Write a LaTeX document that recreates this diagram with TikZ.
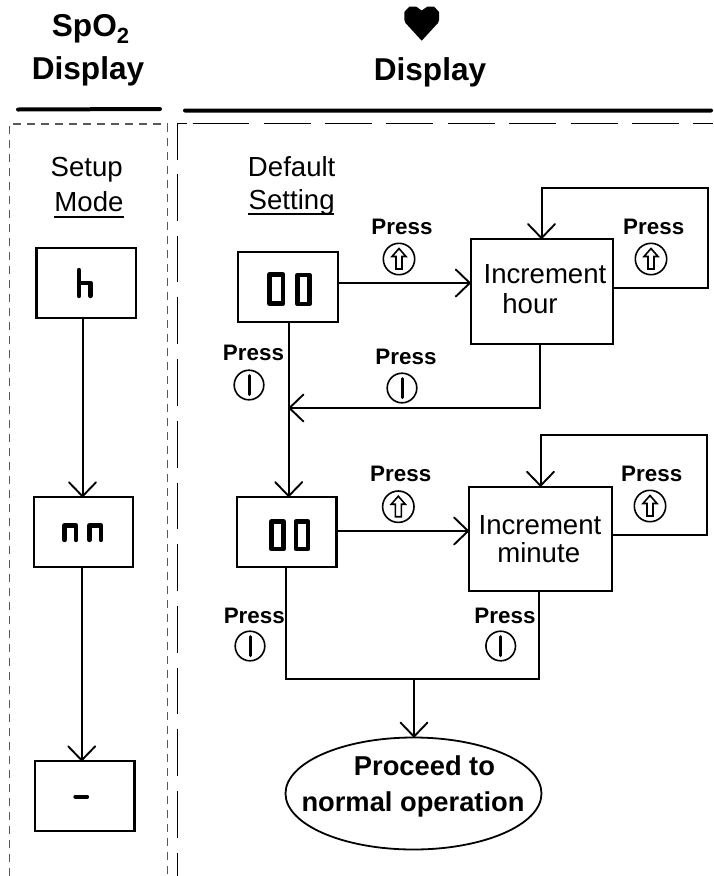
\documentclass[tikz,border=0pt]{standalone}
\usepackage{fontspec}
\setmainfont{Liberation Sans}
\usetikzlibrary{arrows.meta,shapes.geometric}
\newcommand{\fs}[1]{\fontsize{#1}{#1}\selectfont}
\tikzset{
  x=1pt,y=-1pt,
  box/.style={draw,line width=2.1pt,minimum width=#1,minimum height=69.5pt,inner sep=0pt,outer sep=0pt},
  conn/.style={line width=2pt},
  arr/.style={line width=2pt,-{Straight Barb[length=14pt,width=27pt,line width=1.9pt,round]}},
  head/.style={font=\bfseries\fs{31.6},anchor=base,inner sep=0pt},
  press/.style={font=\bfseries\fs{22.4},anchor=base,inner sep=0pt},
  plain/.style={font=\fs{27.6},anchor=base,inner sep=0pt},
  segm/.style={line width=4.4pt,line cap=round,line join=round},
  pics/upbtn/.style={code={
    \draw[line width=1.6pt] (0,0) circle[radius=15.7];
    \draw[line width=1.6pt,line join=miter] (0,-10.5) -- (7,-2.5) -- (3,-2.5) -- (3,10) -- (-3,10) -- (-3,-2.5) -- (-7,-2.5) -- cycle;
  }},
  pics/onbtn/.style={code={
    \draw[line width=1.6pt] (0,0) circle[radius=14.8];
    \draw[line width=3pt,line cap=round] (0,-9.5) -- (0,9.5);
  }},
}
\begin{document}
\begin{tikzpicture}
\useasboundingbox (0,0) rectangle (713,876);
% headers
\node[head] (sp) at (90.5,36) {SpO\raisebox{-7pt}{\fs{22}2}};
\node[head] (d1) at (88,79) {Display};
\node[head] (d2) at (430,80) {Display};
\fill (421.7,40.7) -- (405.5,23) -- (404.3,20) -- (404.3,12) -- (409.5,6.5) -- (416,6.5) -- (421.7,10.5) -- (427.5,6.5) -- (434,6.5) -- (439,12) -- (439,20) -- (438,23) -- cycle;
\draw[line width=4pt,line cap=round] (18,109.5) -- (160,109) (185,110.5) -- (711,110.5);
% frames
\draw[black!65,line width=1.1pt,dash pattern=on 8pt off 6pt] (9.3,876) -- (9.3,124) -- (167.7,124) -- (167.7,876);
\draw[line width=1pt] (187,123.5) -- (177.5,123.5) -- (177.5,160);
\draw[line width=1pt] (192.7,123.5) -- (249,123.5);
\draw[line width=1pt,dash pattern=on 47pt off 14.4pt] (263.5,123.5) -- (713,123.5);
\draw[line width=1pt,dash pattern=on 46.7pt off 15pt] (177.5,174) -- (177.5,876);
% captions
\node[plain] (setup) at (86.7,176) {Setup};
\node[plain] (mode) at (89,211.5) {Mode};
\draw[line width=2pt] (54,216.8) -- (124,216.8);
\node[plain] (default) at (291.7,176.5) {Default};
\node[plain] (setting) at (291.7,209.5) {Setting};
\draw[line width=2pt] (248,213.5) -- (334,213.5);
% boxes
\node[box=99.5pt] (bh) at (86.2,282.8) {};
\node[box=99.5pt] (bn) at (83.3,532) {};
\node[box=99.5pt] (bd) at (84.7,796) {};
\node[box=99.5pt] (b1) at (288,286.8) {};
\node[box=99.5pt] (b2) at (286.7,531.8) {};
\node[draw,line width=2.1pt,minimum width=142.5pt,minimum height=105pt,inner sep=0pt,outer sep=0pt] (ih) at (542,291.5) {};
\node[draw,line width=2.1pt,minimum width=142.5pt,minimum height=104pt,inner sep=0pt,outer sep=0pt] (im) at (540.3,538.7) {};
\node[ellipse,draw,line width=1.8pt,minimum width=256pt,minimum height=112pt,inner sep=0pt,outer sep=0pt] (end) at (413.5,793.5) {};
% box texts
\node[plain] (t1) at (545,283.5) {Increment};
\node[plain] (t2) at (530,313) {hour};
\node[plain] (t3) at (540,534) {Increment};
\node[plain] (t4) at (538.7,562.7) {minute};
\node[font=\bfseries\fs{27.3},anchor=base,inner sep=0pt] (t5) at (424.5,775) {Proceed to};
\node[font=\bfseries\fs{27.3},anchor=base,inner sep=0pt] (t6) at (413,811) {normal operation};
% segment glyphs
\draw[segm] (79,270) -- (79,296) (79,283) -- (90.5,283) -- (90.5,296);
\draw[segm] (64.5,540) -- (64.5,525.5) -- (76,525.5) -- (76,540);
\draw[segm] (89.5,540) -- (89.5,525.5) -- (101,525.5) -- (101,540);
\draw[segm] (75.5,796.7) -- (87,796.7);
\draw[segm] (269.5,274.5) rectangle (283,303.5) (297.5,275) rectangle (309.5,304);
\draw[segm] (271.5,521.5) rectangle (283.5,549) (296,521.5) rectangle (308,549);
% connectors
\draw[arr] ([xshift=-3.7pt]bh.south) -- ([xshift=-0.8pt]bn.north);
\draw[arr] ([xshift=-1.6pt]bn.south) -- ([xshift=-3pt]bd.north);
\draw[arr] ([yshift=3.8pt]b1.east) -- (ih.west |- 0,283);
\draw[arr] ([yshift=0.8pt]b2.east) -- (im.west |- 0,531);
\coordinate (lh1) at (708,288);
\coordinate (lh2) at (708,187.5);
\coordinate (lh3) at (541.5,187.5);
\draw[arr] (ih.east |- lh1) -- (lh1) -- (lh2) -- (lh3) -- (lh3 |- ih.north);
\coordinate (lm1) at (707,535.3);
\coordinate (lm2) at (707,435);
\coordinate (lm3) at (540.5,435);
\draw[arr] (im.east |- lm1) -- (lm1) -- (lm2) -- (lm3) -- (lm3 |- im.north);
\coordinate (bk) at (540,408);
\draw[arr] (bk |- ih.south) -- (bk) -- (288.5,408);
\draw[arr] (b1.south -| 288.7,0) -- (b2.north -| 288.7,0);
\coordinate (jl) at (286.3,679.3);
\coordinate (jr) at (538.7,679.3);
\coordinate (jm) at (414,679.3);
\draw[conn,line join=miter] (b2.south -| jl) -- (jl) -- (jr) -- (jr |- im.south);
\draw[arr] (jm) -- (jm |- end.north);
% press labels
\node[press] (p1) at (402,234) {Press};
\pic at (399,259) {upbtn};
\node[press] (p2) at (653.7,234.5) {Press};
\pic at (651,259) {upbtn};
\node[press] (p3) at (253.5,360) {Press};
\pic at (249,385) {onbtn};
\node[press] (p4) at (406,364) {Press};
\pic at (402,388) {onbtn};
\node[press] (p5) at (400.7,481.7) {Press};
\pic at (398.3,506.7) {upbtn};
\node[press] (p6) at (651.7,481.7) {Press};
\pic at (650,506) {upbtn};
\node[press] (p7) at (254.3,623.3) {Press};
\pic at (250,646) {onbtn};
\node[press] (p8) at (505,623.3) {Press};
\pic at (500.7,646) {onbtn};
\end{tikzpicture}
\end{document}
